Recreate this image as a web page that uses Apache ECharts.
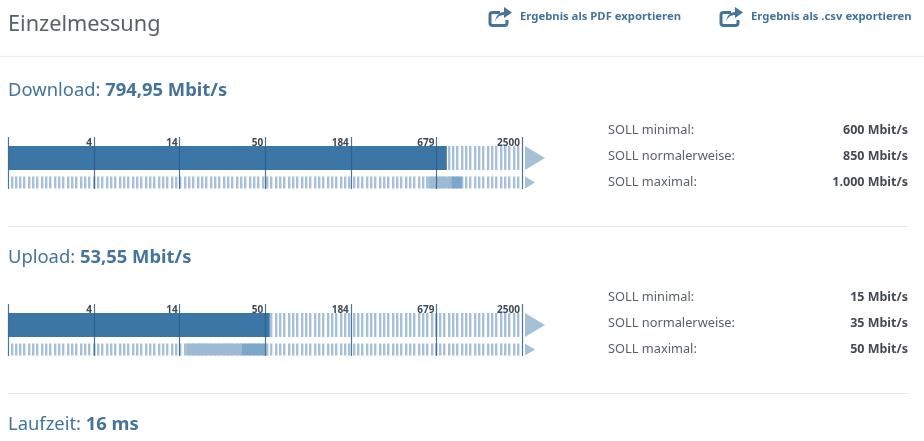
<!DOCTYPE html>
<html>
<head>
<meta charset="utf-8">
<style>html,body{margin:0;padding:0;background:#fff}#chart{width:924px;height:441px}</style>
<script src="https://cdn.jsdelivr.net/npm/echarts@6/dist/echarts.min.js"></script>
</head>
<body>
<div id="chart"></div>
<script>
// Measured throughput and contract speeds, Mbit/s
const tickLabels = ['', '4', '14', '50', '184', '679', '2500'];
const scaleMin = 1;
const scaleMax = 2500;
const downloadMeasured = 794.95;
const uploadMeasured = 53.55;
const downloadSoll = [600, 850, 1000];
const uploadSoll = [15, 35, 50];
const sollNames = ['SOLL minimal:', 'SOLL normalerweise:', 'SOLL maximal:'];
const latencyMs = 16;

const FONT = '"Noto Sans", sans-serif';
const BLUE = '#3b76a5';
const HEAD = '#44749b';
const STRIPE = '#a5c0d8';
const SOFT = '#9dbad4';
const MID = '#7ba7cb';
const TICK = '#2f5f85';

const fmtSpeed = v => v.toLocaleString('de-DE', { minimumFractionDigits: 2, maximumFractionDigits: 2 });
const fmtSoll = v => v.toLocaleString('de-DE');

// Share icon shapes for the export links
echarts.graphic.registerShape('exportBox', echarts.graphic.extendPath('M11 6H3.5a2.5 2.5 0 0 0-2.5 2.5v8a2.5 2.5 0 0 0 2.5 2.5h12a2.5 2.5 0 0 0 2.5-2.5v-3'));
echarts.graphic.registerShape('exportArrow', echarts.graphic.extendPath('M6 15C7 9 10 6 15 5.5V0.5L23 6L15 11.5V8.5C11 8.5 8 10.5 6 15Z'));

// Rows inside a gauge, in y-axis units (the hidden axis spans the gauge height in px)
const BIG = [9, 33];
const SMALL = [39.5, 51.5];

function stripes(params, api) {
  const from = api.value(0), to = api.value(1);
  const row = api.value(2) === 0 ? BIG : SMALL;
  const a = api.coord([from, row[0]]);
  const b = api.coord([to, row[1]]);
  const kids = [];
  // Whole-pixel stripe starts keep the hatching crisp
  for (let x = a[0] + 2; x + 2.4 <= b[0]; x += 4.33) {
    kids.push({ type: 'rect', shape: { x: Math.round(x), y: a[1], width: 2.4, height: b[1] - a[1] }, style: { fill: STRIPE } });
  }
  // Arrow head at the open end of the scale
  const h = b[1] - a[1], len = row === BIG ? 20 : 10;
  kids.push({
    type: 'polygon',
    shape: { points: [[b[0] + 3, a[1]], [b[0] + 3 + len, a[1] + h / 2], [b[0] + 3, b[1]]] },
    style: { fill: '#a6c0d8' }
  });
  return { type: 'group', children: kids };
}

function span(params, api) {
  const row = api.value(2) === 0 ? BIG : SMALL;
  const a = api.coord([api.value(0), row[0]]);
  const b = api.coord([api.value(1), row[1]]);
  return { type: 'rect', shape: { x: a[0], y: a[1], width: b[0] - a[0], height: b[1] - a[1] }, style: { fill: api.visual('color') } };
}

function gaugeSeries(idx, measured, soll) {
  const base = { type: 'custom', xAxisIndex: idx, yAxisIndex: idx, silent: true, animation: false, encode: { x: [0, 1], y: 2 } };
  return [
    { ...base, renderItem: stripes, data: [[scaleMin, scaleMax, 0], [scaleMin, scaleMax, 1]], z: 1 },
    { ...base, renderItem: span, itemStyle: { color: SOFT }, data: [[soll[0], soll[1], 1]], z: 2 },
    { ...base, renderItem: span, itemStyle: { color: MID }, data: [[soll[1], soll[2], 1]], z: 2 },
    { ...base, renderItem: span, itemStyle: { color: BLUE }, data: [[scaleMin, measured, 0]], z: 2 }
  ];
}

function gaugeAxis(idx) {
  return {
    type: 'log', gridIndex: idx, position: 'top',
    logBase: Math.pow(scaleMax, 1 / 6), min: scaleMin, max: scaleMax, z: 6,
    axisLine: { show: false }, axisTick: { show: false }, minorTick: { show: false },
    splitLine: { show: true, lineStyle: { color: TICK, width: 1.2, opacity: 0.85 } },
    axisLabel: {
      show: true, inside: true, margin: 1, align: 'right', verticalAlign: 'top',
      padding: [0, 2, 0, 0], showMinLabel: true, showMaxLabel: true, hideOverlap: false,
      fontFamily: FONT, fontSize: 10, fontWeight: 'bold', color: '#3f4a55',
      formatter: (v, i) => tickLabels[i]
    }
  };
}
const yAxisFor = idx => ({ type: 'value', gridIndex: idx, min: 0, max: 52, inverse: true, show: false });

function text(x, y, str, size, color, extra) {
  return { type: 'text', x, y, silent: true, style: { text: str, fontFamily: FONT, fontSize: size, fill: color, verticalAlign: 'middle', ...extra } };
}
function rule(y, x1, x2, color, width) {
  return { type: 'line', silent: true, shape: { x1, y1: y, x2, y2: y }, style: { stroke: color, lineWidth: width } };
}
function heading(y, name, value) {
  return {
    type: 'text', x: 8, y, silent: true,
    style: {
      text: `{a|${name}: }{b|${value}}`, verticalAlign: 'middle',
      rich: {
        a: { fontFamily: FONT, fontSize: 18.4, fill: HEAD, color: HEAD },
        b: { fontFamily: FONT, fontSize: 18.4, fontWeight: 'bold', fill: HEAD, color: HEAD }
      }
    }
  };
}
function sollTable(y0, soll) {
  const out = [];
  soll.forEach((v, i) => {
    out.push(text(608, y0 + i * 26, sollNames[i], 12.8, '#5a6169'));
    out.push(text(908, y0 + i * 26, fmtSoll(v) + ' Mbit/s', 12.5, '#454b52', { align: 'right', fontWeight: 'bold' }));
  });
  return out;
}
function exportLink(x, label) {
  return [
    { type: 'exportBox', x, y: 6.5, silent: true, style: { fill: 'none', stroke: HEAD, lineWidth: 3 } },
    { type: 'exportArrow', x, y: 6.5, silent: true, style: { fill: HEAD } },
    text(x + 31, 16.5, label, 11.3, HEAD, { fontWeight: 'bold' })
  ];
}

const chart = echarts.init(document.getElementById('chart'), null, { renderer: 'canvas' });
chart.setOption({
  animation: false,
  backgroundColor: '#fff',
  grid: [
    { left: 8.5, top: 137, width: 513.5, height: 52 },
    { left: 8.5, top: 304, width: 513.5, height: 52 }
  ],
  xAxis: [gaugeAxis(0), gaugeAxis(1)],
  yAxis: [yAxisFor(0), yAxisFor(1)],
  series: [...gaugeSeries(0, downloadMeasured, downloadSoll), ...gaugeSeries(1, uploadMeasured, uploadSoll)],
  graphic: {
    elements: [
      text(8, 25, 'Einzelmessung', 21.7, '#5a6169'),
      ...exportLink(489, 'Ergebnis als PDF exportieren'),
      ...exportLink(720, 'Ergebnis als .csv exportieren'),
      rule(56.5, 0, 924, '#f0f0f0', 1.5),
      heading(90.5, 'Download', fmtSpeed(downloadMeasured) + ' Mbit/s'),
      ...sollTable(130, downloadSoll),
      rule(226.5, 8, 908, '#e8e8e8', 1),
      heading(257.5, 'Upload', fmtSpeed(uploadMeasured) + ' Mbit/s'),
      ...sollTable(297, uploadSoll),
      rule(393.5, 8, 908, '#e8e8e8', 1),
      heading(424.5, 'Laufzeit', latencyMs + ' ms')
    ]
  }
});
</script>
</body>
</html>
